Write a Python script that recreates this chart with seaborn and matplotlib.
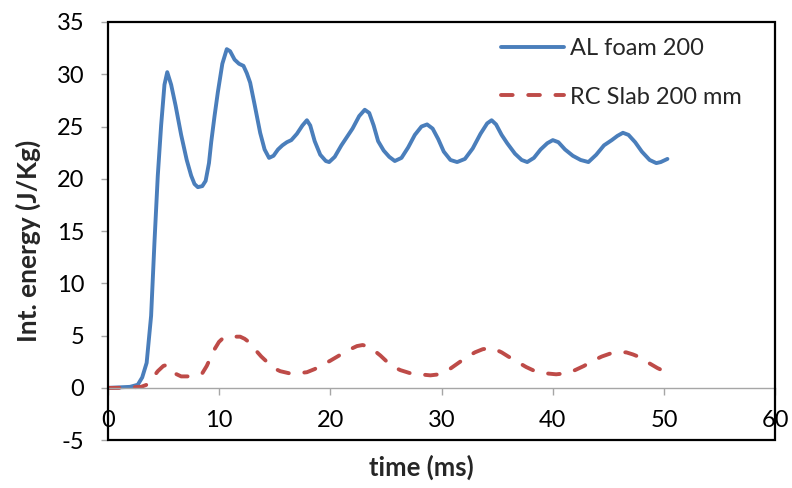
import pandas as pd
import matplotlib.pyplot as plt
import seaborn as sns
from matplotlib.patches import Rectangle

# ==========================================
# DATA
# ==========================================
foam_time = [0.0, 1.0, 2.0, 2.7, 3.1, 3.5, 3.9, 4.2, 4.5, 4.8, 5.1, 5.35, 5.7, 6.1,
             6.6, 7.1, 7.5, 7.8, 8.1, 8.5, 8.8, 9.1, 9.3, 9.6, 9.9, 10.3, 10.7,
             11.0, 11.4, 11.8, 12.2, 12.5, 12.8, 13.2, 13.7, 14.1, 14.5, 14.9,
             15.3, 15.7, 16.1, 16.5, 17.0, 17.5, 17.9, 18.2, 18.6, 19.1, 19.6,
             19.9, 20.4, 21.0, 21.5, 22.0, 22.6, 23.1, 23.5, 23.9, 24.3, 24.8,
             25.3, 25.8, 26.4, 27.0, 27.6, 28.2, 28.7, 29.2, 29.7, 30.2, 30.8,
             31.4, 32.1, 32.8, 33.5, 34.1, 34.5, 34.9, 35.4, 35.9, 36.6, 37.2,
             37.7, 38.3, 38.9, 39.5, 40.0, 40.5, 41.1, 41.8, 42.5, 43.2, 43.9,
             44.6, 45.3, 45.8, 46.3, 46.8, 47.4, 48.0, 48.7, 49.3, 49.7, 50.3]
foam_energy = [0.0, 0.05, 0.1, 0.3, 1.0, 2.4, 6.9, 13.9, 20.3, 25.1, 29.0, 30.2,
               29.0, 27.0, 24.2, 21.8, 20.3, 19.5, 19.2, 19.3, 19.8, 21.5, 23.5,
               26.0, 28.3, 31.0, 32.4, 32.2, 31.4, 31.0, 30.8, 30.1, 29.2, 27.1,
               24.4, 22.8, 22.0, 22.2, 22.8, 23.2, 23.5, 23.7, 24.3, 25.1, 25.6,
               25.1, 23.6, 22.3, 21.7, 21.6, 22.1, 23.2, 24.0, 24.8, 26.0, 26.6,
               26.3, 25.1, 23.6, 22.7, 22.1, 21.7, 22.0, 23.0, 24.2, 25.0, 25.2,
               24.8, 23.8, 22.6, 21.8, 21.6, 21.9, 22.9, 24.3, 25.3, 25.6, 25.2,
               24.2, 23.4, 22.4, 21.8, 21.6, 22.0, 22.8, 23.4, 23.7, 23.5, 22.8,
               22.2, 21.8, 21.6, 22.3, 23.2, 23.7, 24.1, 24.4, 24.2, 23.5, 22.6,
               21.8, 21.5, 21.6, 21.9]

slab_time = [0.0, 1.0, 2.0, 3.0, 3.5, 4.0, 4.5, 5.0, 5.3, 5.6, 6.0, 6.6, 7.3, 8.0,
             8.5, 8.9, 9.2, 9.6, 10.0, 10.4, 10.9, 11.5, 11.9, 12.3, 12.8, 13.3,
             13.8, 14.3, 14.9, 15.5, 16.3, 17.1, 17.9, 18.6, 19.3, 20.0, 20.8,
             21.6, 22.4, 22.9, 23.3, 23.8, 24.5, 25.1, 25.7, 26.3, 27.2, 28.0,
             29.0, 29.8, 30.6, 31.4, 32.2, 33.0, 33.7, 34.3, 34.8, 35.4, 36.0,
             36.8, 37.6, 38.4, 39.3, 40.3, 41.2, 42.0, 42.8, 43.6, 44.4, 45.2,
             46.0, 46.6, 47.2, 47.9, 48.6, 49.4, 50.2]
slab_energy = [0.0, 0.0, 0.05, 0.1, 0.3, 0.9, 1.6, 2.1, 2.2, 1.8, 1.4, 1.1, 1.1,
               1.2, 1.4, 2.1, 2.8, 3.7, 4.4, 4.8, 4.9, 4.9, 4.9, 4.7, 4.3, 3.6,
               3.0, 2.5, 1.9, 1.6, 1.4, 1.4, 1.5, 1.8, 2.2, 2.6, 3.1, 3.6, 4.0,
               4.1, 4.0, 3.7, 3.1, 2.5, 2.0, 1.7, 1.4, 1.3, 1.2, 1.3, 1.7, 2.3,
               2.9, 3.4, 3.7, 3.8, 3.7, 3.4, 3.0, 2.5, 2.0, 1.6, 1.4, 1.3, 1.4,
               1.7, 2.1, 2.6, 3.0, 3.3, 3.4, 3.4, 3.2, 2.9, 2.4, 1.9, 1.5]

series_names = ['AL foam 200', 'RC Slab 200 mm']
x_ticks = [0, 10, 20, 30, 40, 50, 60]
y_ticks = [-5, 0, 5, 10, 15, 20, 25, 30, 35]

foam_df = pd.DataFrame({'time': foam_time, 'energy': foam_energy})
slab_df = pd.DataFrame({'time': slab_time, 'energy': slab_energy})

# ==========================================
# STYLE
# ==========================================
sns.set_style('white')
plt.rcParams['font.family'] = ['Lato', 'DejaVu Sans']

BLUE = '#4A7EBB'
RED = '#BE4B48'
TICK_FS = 17
LABEL_FS = 18.5

fig = plt.figure(figsize=(7.92, 4.88), dpi=100)
ax = fig.add_axes([0.136, 0.098, 0.843, 0.857])

sns.lineplot(data=foam_df, x='time', y='energy', ax=ax, color=BLUE,
             linewidth=2.8, label=series_names[0], sort=False)
sns.lineplot(data=slab_df, x='time', y='energy', ax=ax, color=RED,
             linewidth=2.8, label=series_names[1], sort=False,
             linestyle=(0, (3, 4)), dash_capstyle='round')

ax.set_xlim(0, 60)
ax.set_ylim(-5, 35)
ax.set_xticks(x_ticks)
ax.set_yticks(y_ticks)
ax.set_xticklabels([str(t) for t in x_ticks])
ax.set_yticklabels([str(t) for t in y_ticks])

# Excel-like axes: x axis line sits at y=0, black box around plot area
for side in ['top', 'right', 'left']:
    ax.spines[side].set_visible(False)
ax.spines['bottom'].set_position(('data', 0))
ax.spines['bottom'].set_color('#A6A6A6')
ax.spines['bottom'].set_linewidth(1.0)
ax.add_patch(Rectangle((0, 0), 1, 1, transform=ax.transAxes, fill=False,
                       edgecolor='black', linewidth=1.6, clip_on=False, zorder=5))

ax.tick_params(axis='x', direction='out', length=5, width=1, color='#A6A6A6',
               pad=11, labelsize=TICK_FS, labelcolor='black', bottom=True)
ax.tick_params(axis='y', direction='out', length=5, width=1, color='#A6A6A6',
               pad=12, labelsize=TICK_FS, labelcolor='black', left=True)

ax.set_xlabel('time (ms)', fontsize=LABEL_FS, fontweight='bold')
ax.set_ylabel('Int. energy (J/Kg)', fontsize=LABEL_FS + 0.5, fontweight='bold')
ax.xaxis.set_label_coords(0.47, -0.035)
ax.yaxis.set_label_coords(-0.1, 0.476)

leg = ax.legend(loc='upper right', frameon=False, fontsize=TICK_FS,
                handlelength=2.7, handletextpad=0.25, labelspacing=1.15,
                borderaxespad=0.3, bbox_to_anchor=(0.975, 1.0))

fig.savefig('out.png', dpi=100)
